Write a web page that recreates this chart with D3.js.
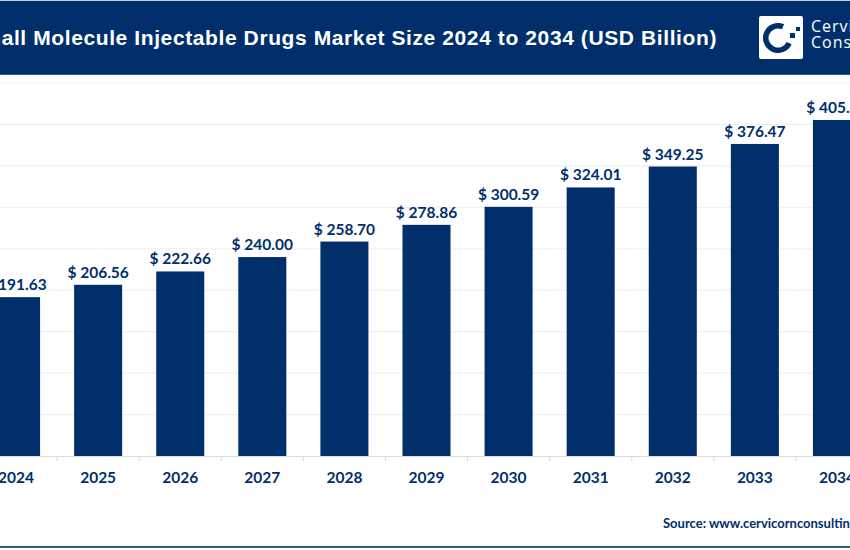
<!DOCTYPE html>
<html>
<head>
<meta charset="utf-8">
<script src="https://cdn.jsdelivr.net/npm/d3@7"></script>
<style>
  html, body { margin: 0; padding: 0; background: #fff; overflow: hidden; }
</style>
</head>
<body>
<div id="chart"></div>
<script>
const years = ["2024", "2025", "2026", "2027", "2028", "2029", "2030", "2031", "2032", "2033", "2034"];
const marketSize = [191.63, 206.56, 222.66, 240.00, 258.70, 278.86, 300.59, 324.01, 349.25, 376.47, 405.37];
const gridValues = [0, 50, 100, 150, 200, 250, 300, 350, 400, 450];

const titleText = "Small Molecule Injectable Drugs Market Size 2024 to 2034 (USD Billion)";
const sourceText = "Source: www.cervicornconsulting.com";
const logoLines = ["Cervicorn", "Consulting"];

const svgwidth = 850;
const svgheight = 550;
const navy = "#002f6c";

var svg = d3.select("#chart")
  .append("svg")
  .attr("width", svgwidth)
  .attr("height", svgheight)
  .style("display", "block");

// x runs past both edges of the page, the first and last bars get cut off
var x = d3.scaleBand()
  .domain(years)
  .range([-25, 878])
  .paddingInner(0.415)
  .paddingOuter(0.2075);

var y = d3.scaleLinear()
  .domain([0, 450])
  .range([456, 83]);

// header band
svg.append("rect")
  .attr("x", 0)
  .attr("y", 0)
  .attr("width", svgwidth)
  .attr("height", 74)
  .attr("fill", navy);
svg.append("rect")
  .attr("x", 0)
  .attr("y", 74)
  .attr("width", svgwidth)
  .attr("height", 1)
  .attr("fill", "#2f5b8f");
svg.append("rect")
  .attr("x", 0)
  .attr("y", 0)
  .attr("width", svgwidth)
  .attr("height", 1)
  .attr("fill", "#c9d0da");

svg.append("text")
  .attr("x", 717)
  .attr("y", 45)
  .attr("text-anchor", "end")
  .attr("fill", "#fff")
  .style("font", "bold 21px 'Liberation Sans'")
  .style("letter-spacing", "0.6px")
  .text(titleText);

// logo
var logo = svg.append("g").attr("transform", "translate(759, 16)");
logo.append("rect")
  .attr("width", 44)
  .attr("height", 43)
  .attr("rx", 2)
  .attr("fill", "#fff");
logo.append("path")
  .attr("d", d3.arc()
    .innerRadius(9.5)
    .outerRadius(15)
    .startAngle(2.0)
    .endAngle(6.7)())
  .attr("transform", "translate(19, 22)")
  .attr("fill", navy);
logo.append("rect").attr("x", 31).attr("y", 17).attr("width", 5).attr("height", 5).attr("fill", navy);
logo.append("rect").attr("x", 37).attr("y", 11).attr("width", 4).attr("height", 4).attr("fill", navy);

svg.selectAll(".logo-text")
  .data(logoLines)
  .enter()
  .append("text")
  .attr("class", "logo-text")
  .attr("x", 811)
  .attr("y", (d, i) => 32 + i * 16)
  .attr("fill", "#fff")
  .style("font", "16px 'Open Sans'")
  .style("letter-spacing", "1px")
  .text(d => d);

// gridlines
svg.selectAll(".grid")
  .data(gridValues.slice(1))
  .enter()
  .append("line")
  .attr("class", "grid")
  .attr("x1", 0)
  .attr("x2", svgwidth)
  .attr("y1", d => y(d))
  .attr("y2", d => y(d))
  .attr("stroke", "#f0f0f0")
  .attr("stroke-width", 1.2);

// bars
svg.selectAll(".bar")
  .data(years)
  .enter()
  .append("rect")
  .attr("class", "bar")
  .attr("x", d => x(d))
  .attr("y", (d, i) => y(marketSize[i]))
  .attr("width", x.bandwidth())
  .attr("height", (d, i) => y(0) - y(marketSize[i]))
  .attr("fill", navy);

// value labels
svg.selectAll(".value")
  .data(years)
  .enter()
  .append("text")
  .attr("class", "value")
  .attr("x", d => x(d) + x.bandwidth() / 2)
  .attr("y", (d, i) => y(marketSize[i]) - 7)
  .attr("text-anchor", "middle")
  .attr("fill", navy)
  .style("font", "bold 15.5px Lato")
  .text((d, i) => "$ " + marketSize[i].toFixed(2));

// x axis, the ticks sit between the bars so they are added separately
var bottom = d3.axisBottom(x).tickSize(0).tickPadding(16);
var xaxis = svg.append("g")
  .attr("transform", `translate(0, ${y(0)})`)
  .call(bottom);
xaxis.select(".domain").attr("stroke", "#d9d9d9");
xaxis.selectAll("text")
  .attr("fill", navy)
  .style("font", "bold 15.5px Lato");

svg.selectAll(".sep")
  .data(years)
  .enter()
  .append("line")
  .attr("class", "sep")
  .attr("x1", d => x(d) + x.bandwidth() + x.step() * 0.2075)
  .attr("x2", d => x(d) + x.bandwidth() + x.step() * 0.2075)
  .attr("y1", y(0))
  .attr("y2", y(0) + 5)
  .attr("stroke", "#d9d9d9");

svg.append("text")
  .attr("x", 663)
  .attr("y", 528)
  .attr("fill", navy)
  .style("font", "bold 13px Lato")
  .text(sourceText);

// footer rule
svg.append("rect")
  .attr("x", 0)
  .attr("y", 546)
  .attr("width", svgwidth)
  .attr("height", 2)
  .attr("fill", "#2f5b8f");
</script>
</body>
</html>
